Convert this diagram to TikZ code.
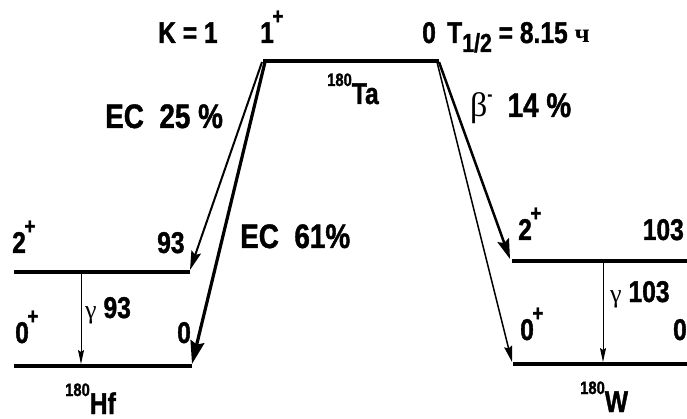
\documentclass[tikz,border=0pt]{standalone}
\usepackage{fontspec}
\setmainfont{Liberation Sans}[FakeStretch=0.82, BoldFeatures={FakeBold=1.2}]
\newfontfamily\grk{Liberation Serif}
\usetikzlibrary{arrows.meta}
\newcommand\upsign[1]{\kern-1.5pt\raisebox{19pt}{\fontsize{23}{23}\selectfont #1}}
\newcommand\nucl[2]{\raisebox{18pt}{\fontsize{18}{18}\selectfont #1}#2}
\begin{document}
\begin{tikzpicture}[
            x=1pt, y=-1pt,
            level/.style={line width=4pt},
            lbl/.style={inner sep=0pt, anchor=base west, font=\fontsize{30}{30}\selectfont\bfseries},
            big/.style={lbl, font=\fontsize{34}{34}\selectfont\bfseries},
            ecweak/.style={line width=2pt, -{Stealth[length=19pt,width=10pt,inset=3pt]}},
            ecstrong/.style={line width=3.2pt, -{Stealth[length=23pt,width=14pt,inset=3pt]}},
            betamain/.style={line width=2.5pt, -{Stealth[length=20pt,width=12pt,inset=3pt]}},
            betaweak/.style={line width=1.5pt, -{Stealth[length=16pt,width=8pt,inset=2pt]}},
            gam/.style={line width=1pt, -{Stealth[length=14pt,width=6pt,inset=2pt]}}
          ]
          \useasboundingbox (0,0) rectangle (687,419);
          \coordinate (taL) at (263,61);
          \coordinate (taR) at (439,61);
          \coordinate (hf2L) at (14,272);
          \coordinate (hf2R) at (190,272);
          \coordinate (hf0L) at (14,366);
          \coordinate (hf0R) at (192,366);
          \coordinate (w2L) at (512,261);
          \coordinate (w2R) at (687,261);
          \coordinate (w0L) at (513,364);
          \coordinate (w0R) at (687,364);
          \coordinate (hfgtop) at (81,272);
          \coordinate (hfgbot) at (81,364);
          \coordinate (wgtop) at (603,261);
          \coordinate (wgbot) at (603,362);
          \foreach \a/\b in {taL/taR, hf2L/hf2R, hf0L/hf0R, w2L/w2R, w0L/w0R} {
            \draw[level] (\a) -- (\b);
          }
          \draw[ecweak] ([xshift=-1pt,yshift=-1pt]taL) -- ([yshift=2pt]hf2R);
          \draw[ecstrong] ([xshift=2pt,yshift=-1pt]taL) -- ([yshift=2pt]hf0R);
          \draw[betamain] ([yshift=-1pt]taR) -- ([xshift=-2pt,yshift=2pt]w2L);
          \draw[betaweak] ([xshift=-2pt,yshift=-1pt]taR) -- ([xshift=-1pt,yshift=2pt]w0L);
          \draw[gam] (hfgtop) -- (hfgbot);
          \draw[gam] (wgtop) -- (wgbot);
          \node[lbl] (kval) at (158,43) {K = 1};
          \node[lbl] (taspin) at (260,43) {1\upsign{+}};
          \node[lbl] (taen) at (422,43) {0};
          \node[lbl] (thalf) at (447,43) {T\raisebox{-9pt}{\fontsize{26}{26}\selectfont 1/2} = 8.15 {\grk\fontsize{27}{27}\selectfont ч}};
          \node[big] (eclow) at (105,128) {EC\ \ 25 \%};
          \node[lbl] (ta) at (327,104) {\nucl{180}{Ta}};
          \node[big] (betalbl) at (470,117) {{\grk\mdseries\fontsize{34}{34}\selectfont β}\raisebox{17pt}{\fontsize{17}{17}\selectfont -}\ \ 14 \%};
          \node[big] (echigh) at (240,248) {EC\ \ 61\%};
          \node[lbl] (hf2) at (12,253) {2\upsign{+}};
          \node[lbl] (hf2en) at (157,253) {93};
          \node[lbl] (hfgam) at (85,318) {{\grk\mdseries\fontsize{26}{26}\selectfont γ} 93};
          \node[lbl] (hf0) at (15,343) {0\upsign{+}};
          \node[lbl] (hf0en) at (177,343) {0};
          \node[lbl] (hf) at (65,414) {\nucl{180}{Hf}};
          \node[lbl] (w2) at (518,240) {2\upsign{+}};
          \node[lbl, anchor=base east] (w2en) at (684,240) {103};
          \node[lbl] (wgam) at (610,302) {{\grk\mdseries\fontsize{26}{26}\selectfont γ} 103};
          \node[lbl] (w0) at (520,340) {0\upsign{+}};
          \node[lbl, anchor=base east] (w0en) at (687,340) {0};
          \node[lbl] (w) at (580,412) {\nucl{180}{W}};
        \end{tikzpicture}
\end{document}
